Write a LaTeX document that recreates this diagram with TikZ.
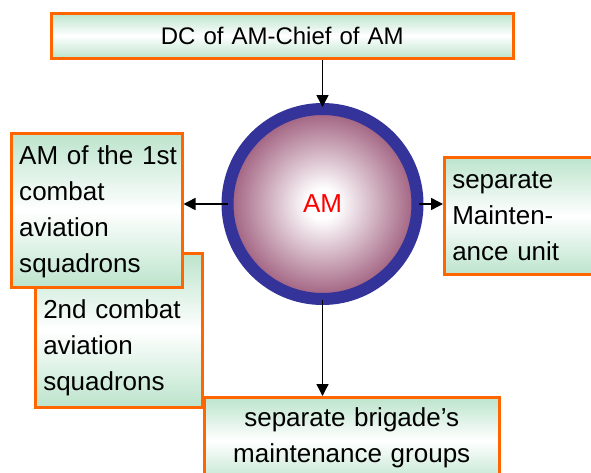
\documentclass[tikz,border=0pt]{standalone}
\usepackage{fontspec}
\setmainfont{Liberation Sans}
\usetikzlibrary{arrows.meta}
\definecolor{mint}{RGB}{188,228,204}
\definecolor{boxline}{RGB}{255,102,0}
\definecolor{ring}{RGB}{51,51,153}
\definecolor{mauve}{RGB}{158,92,124}
\pgfdeclareradialshading{amshade}{\pgfpoint{0bp}{0bp}}{color(0bp)=(white); color(4bp)=(white); color(25bp)=(mauve); color(50bp)=(mauve)}
\begin{document}
\begin{tikzpicture}[x=1pt, y=-1pt,
    box/.style={draw=boxline, line width=2.5pt, top color=mint, bottom color=mint,
      middle color=white, inner xsep=8pt, inner ysep=0pt, anchor=north west,
      font=\fontsize{26}{36}\selectfont},
    arr/.style={-{Triangle[length=12pt,width=12pt]}, line width=1.5pt}]
      \useasboundingbox (0,0) rectangle (591,472);
      \node[box, text width=446pt, align=center, text height=31pt, text depth=14pt,
        font=\fontsize{24}{36}\selectfont] (chief) at (50,12) {DC of AM-Chief of AM};
      \node[box, text width=279pt, align=center, text height=29pt, text depth=58pt] (brig) at (203,396)
        {separate brigade’s\\maintenance groups};
      \node[box, text width=151pt, align=left, text height=65pt, text depth=89pt] (sq2) at (34,252)
        {2nd~combat\\aviation\\squadrons};
      \node[box, text width=155pt, align=left, text height=31pt, text depth=123pt] (sq1) at (10,132)
        {AM~of~the~1st\\combat\\aviation\\squadrons};
      \node[box, text width=150pt, align=left, text height=31pt, text depth=86pt] (unit) at (443,156)
        {separate\\Mainten-\\ance~unit};
      \node[draw=ring, line width=12pt, circle, minimum size=190pt, inner sep=0pt,
        shading=amshade, text=red,
        font=\fontsize{26}{30}\selectfont] (am) at (322.5,204) {AM};
      \draw[arr, shorten >=-4pt] (chief.south -| am.north) -- (am.north);
      \draw[arr, shorten <=-6pt] (am.west) -- (am.west -| sq1.east);
      \draw[arr, shorten <=-5pt] (am.east) -- (am.east -| unit.west);
      \draw[arr, shorten <=-5pt] (am.south) -- (am.south |- brig.north);
\end{tikzpicture}
\end{document}
